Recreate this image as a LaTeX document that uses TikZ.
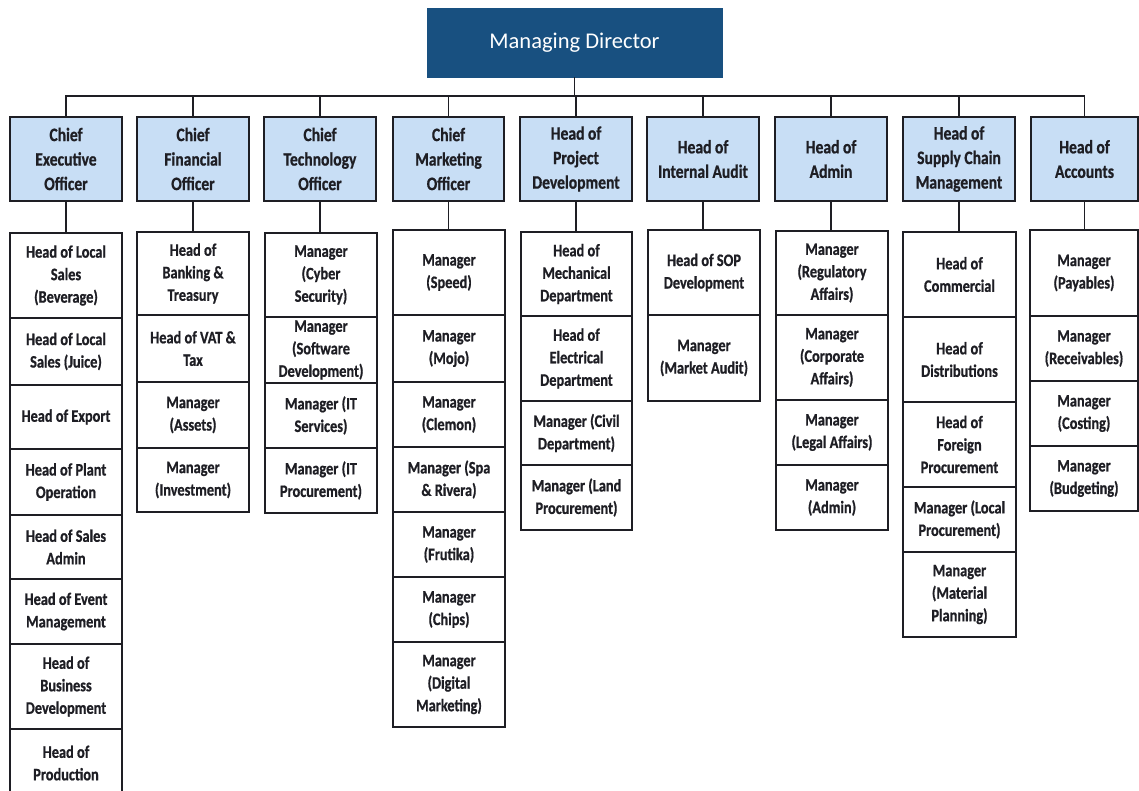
\documentclass[tikz,border=0pt]{standalone}
\usepackage{fontspec}
\setmainfont{Carlito}[FakeStretch=0.82, BoldFeatures={FakeBold=0.8}]
\newfontfamily\mdfont{Carlito}
\definecolor{mdblue}{RGB}{24,80,128}
\definecolor{hdblue}{RGB}{200,222,245}
\definecolor{ink}{RGB}{30,30,36}
\tikzset{
  base/.style={draw=ink, line width=1.6pt, inner sep=0pt, align=center, text=ink},
  head/.style={base, fill=hdblue, font=\bfseries\fontsize{19}{24.5}\selectfont},
  sub/.style={base, fill=white, font=\bfseries\fontsize{17.5}{22.5}\selectfont},
  mdbox/.style={fill=mdblue, draw=mdblue, inner sep=0pt, text=white, font=\mdfont\fontsize{22.5}{27}\selectfont},
  link/.style={draw=ink, line width=1.6pt},
}
\newcommand\myheadbox[6]{\node[head, minimum width={(#4-#2)*1pt}, minimum height={(#5-#3)*1pt}] (#1) at ({(#2+#4)/2},{(#3+#5)/2}) {#6};}
\newcommand\mysubbox[6]{\node[sub, minimum width={(#4-#2)*1pt}, minimum height={(#5-#3)*1pt}] (#1) at ({(#2+#4)/2},{(#3+#5)/2}) {#6};}
\begin{document}
\begin{tikzpicture}[x=1pt, y=-1pt]
\useasboundingbox (0,0) rectangle (1139,791);
\node[mdbox, minimum width=295pt, minimum height=69pt] (md) at (574.5,42.5) {\raisebox{-2pt}{Managing Director}};
\coordinate (bus) at (0,96);
% headers
\myheadbox{h1}{10}{117}{122}{201}{Chief\\Executive\\Officer}
\myheadbox{h2}{137}{117}{249}{201}{Chief\\Financial\\Officer}
\myheadbox{h3}{264}{117}{376}{201}{Chief\\Technology\\Officer}
\myheadbox{h4}{393}{117}{504}{201}{Chief\\Marketing\\Officer}
\myheadbox{h5}{520}{117}{632}{201}{Head of\\Project\\Development}
\myheadbox{h6}{647}{117}{759}{201}{Head of\\Internal Audit}
\myheadbox{h7}{775}{117}{887}{201}{Head of\\Admin}
\myheadbox{h8}{903}{117}{1015}{201}{Head of\\Supply Chain\\Management}
\myheadbox{h9}{1031}{117}{1138}{201}{Head of\\Accounts}
% CEO
\mysubbox{a1}{10}{233}{122}{318}{Head of Local\\Sales\\(Beverage)}
\mysubbox{a2}{10}{318}{122}{385}{Head of Local\\Sales (Juice)}
\mysubbox{a3}{10}{385}{122}{449}{Head of Export}
\mysubbox{a4}{10}{449}{122}{515}{Head of Plant\\Operation}
\mysubbox{a5}{10}{515}{122}{579}{Head of Sales\\Admin}
\mysubbox{a6}{10}{579}{122}{644}{Head of Event\\Management}
\mysubbox{a7}{10}{644}{122}{729}{Head of\\Business\\Development}
\mysubbox{a8}{10}{729}{122}{797}{Head of\\Production}
% CFO
\mysubbox{b1}{137}{232}{249}{315}{Head of\\Banking \&\\Treasury}
\mysubbox{b2}{137}{315}{249}{382}{Head of VAT \&\\Tax}
\mysubbox{b3}{137}{382}{249}{448}{Manager\\(Assets)}
\mysubbox{b4}{137}{448}{249}{512}{Manager\\(Investment)}
% CTO
\mysubbox{c1}{265}{233}{377}{317}{Manager\\(Cyber\\Security)}
\mysubbox{c2}{265}{317}{377}{383}{Manager\\(Software\\Development)}
\mysubbox{c3}{265}{383}{377}{448}{Manager (IT\\Services)}
\mysubbox{c4}{265}{448}{377}{513}{Manager (IT\\Procurement)}
% CMO
\mysubbox{d1}{393}{230}{505}{315}{Manager\\(Speed)}
\mysubbox{d2}{393}{315}{505}{382}{Manager\\(Mojo)}
\mysubbox{d3}{393}{382}{505}{447}{Manager\\(Clemon)}
\mysubbox{d4}{393}{447}{505}{512}{Manager (Spa\\\& Rivera)}
\mysubbox{d5}{393}{512}{505}{577}{Manager\\(Frutika)}
\mysubbox{d6}{393}{577}{505}{642}{Manager\\(Chips)}
\mysubbox{d7}{393}{642}{505}{727}{Manager\\(Digital\\Marketing)}
% HPD
\mysubbox{e1}{521}{232}{632}{316}{Head of\\Mechanical\\Department}
\mysubbox{e2}{521}{316}{632}{401}{Head of\\Electrical\\Department}
\mysubbox{e3}{521}{401}{632}{465}{Manager (Civil\\Department)}
\mysubbox{e4}{521}{465}{632}{530}{Manager (Land\\Procurement)}
% HIA
\mysubbox{f1}{648}{230}{760}{315}{Head of SOP\\Development}
\mysubbox{f2}{648}{315}{760}{401}{Manager\\(Market Audit)}
% Admin
\mysubbox{g1}{776}{231}{888}{315}{Manager\\(Regulatory\\Affairs)}
\mysubbox{g2}{776}{315}{888}{400}{Manager\\(Corporate\\Affairs)}
\mysubbox{g3}{776}{400}{888}{465}{Manager\\(Legal Affairs)}
\mysubbox{g4}{776}{465}{888}{530}{Manager\\(Admin)}
% SCM
\mysubbox{k1}{903}{232}{1016}{317}{Head of\\Commercial}
\mysubbox{k2}{903}{317}{1016}{402}{Head of\\Distributions}
\mysubbox{k3}{903}{402}{1016}{487}{Head of\\Foreign\\Procurement}
\mysubbox{k4}{903}{487}{1016}{552}{Manager (Local\\Procurement)}
\mysubbox{k5}{903}{552}{1016}{637}{Manager\\(Material\\Planning)}
% Accounts
\mysubbox{m1}{1030}{230}{1138}{316}{Manager\\(Payables)}
\mysubbox{m2}{1030}{316}{1138}{381}{Manager\\(Receivables)}
\mysubbox{m3}{1030}{381}{1138}{446}{Manager\\(Costing)}
\mysubbox{m4}{1030}{446}{1138}{511}{Manager\\(Budgeting)}
% connectors
\draw[link] (md.south) -- (md.south |- bus);
\draw[link] (h1.north) -- (h1.north |- bus) -- (h9.north |- bus) -- (h9.north);
\foreach \h in {h2,h3,h4,h5,h6,h7,h8}{\draw[link] (\h.north) -- (\h.north |- bus);}
\foreach \h/\s in {h1/a1,h2/b1,h3/c1,h4/d1,h5/e1,h6/f1,h7/g1,h8/k1,h9/m1}{\draw[link] (\h.south) -- (\h.south |- \s.north);}
\end{tikzpicture}
\end{document}
